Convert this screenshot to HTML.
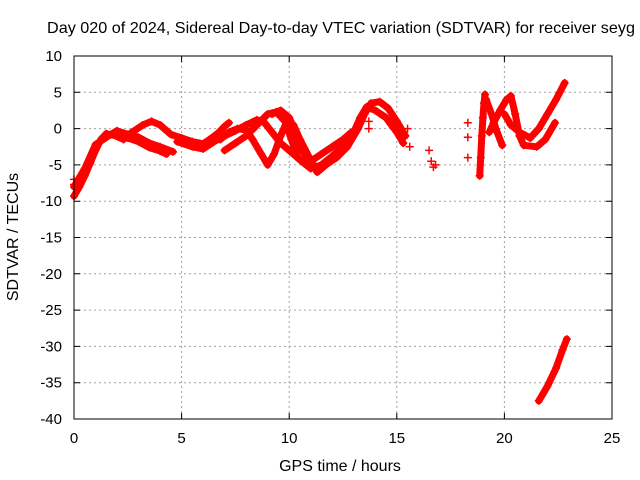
<!DOCTYPE html>
<html><head><meta charset="utf-8"><style>
body{margin:0;background:#fff}
svg{display:block;font-family:"Liberation Sans",sans-serif}
</style></head><body>
<svg id="chart" width="640" height="480" viewBox="0 0 640 480">
<rect width="640" height="480" fill="#fff"/>
<g id="grid"></g>
<g id="series"></g>
<rect x="74" y="56" width="538" height="363" fill="none" stroke="#000" stroke-width="1"/>
<g id="ticks"></g>
<text x="47" y="33" font-size="16" textLength="588" lengthAdjust="spacingAndGlyphs" fill="#000">Day 020 of 2024, Sidereal Day-to-day VTEC variation (SDTVAR) for receiver seyg</text>
<text x="340" y="471" font-size="16" text-anchor="middle">GPS time / hours</text>
<text x="0" y="0" font-size="16" text-anchor="middle" transform="translate(18,237) rotate(-90)">SDTVAR / TECUs</text>
</svg>
<script>
const xTicks=[0,5,10,15,20,25];
const yTicks=[10,5,0,-5,-10,-15,-20,-25,-30,-35,-40];
const trackA=[[0,-9.3],[0.25,-8],[0.5,-6.5],[0.75,-4.8],[1,-3],[1.25,-1.5],[1.5,-0.7],[2,-1],[2.5,-1.3],[3,-1.8],[3.5,-2.6],[4,-3.1],[4.3,-3.5]];
const trackB=[[0,-8],[0.5,-5.5],[1,-2.2],[1.5,-1.2],[2,-0.3],[2.5,-0.8],[3,-1.2],[3.5,-2],[4,-2.5],[4.6,-3.2]];
const trackC=[[1.8,-0.8],[2.3,-1.5],[2.7,-0.5],[3.2,0.5],[3.6,1],[4,0.5],[4.5,-0.8],[5,-1.3],[5.5,-1.8],[6,-2.1],[6.3,-1.5],[6.7,-0.6],[7,0.3],[7.2,0.8]];
const trackD=[[4.8,-1.8],[5.5,-2.5],[6,-2.8],[6.5,-1.8],[7,-1],[7.5,-0.3],[8,0.5],[8.5,1.2],[8.8,1],[9.2,-0.5],[9.6,-2],[10,-3],[10.5,-4.3],[11,-5.5],[11.5,-5],[12,-3.8],[12.5,-2.5],[13,-0.5],[13.3,1.5],[13.6,3],[14,2.5],[14.5,1.5],[15,-0.5],[15.3,-2]];
const trackE=[[6.8,-1.5],[7.2,-0.5],[7.6,0],[8,-0.2],[8.3,-1.5],[8.7,-3.5],[9,-5],[9.3,-3.5],[9.6,-1],[9.9,1],[10.2,0.5],[10.5,-1.5],[10.9,-3.8],[11.3,-6],[11.7,-5],[12.2,-4],[12.7,-2.5],[13.2,0],[13.5,2],[13.8,3.5],[14.2,3.7],[14.6,2.8],[15,1],[15.4,-1]];
const trackF=[[7,-3],[7.5,-2],[8,-1],[8.5,0.5],[9,2],[9.4,2.3],[9.8,1],[10.1,-1.5],[10.4,-4],[10.7,-4.8],[11,-4.5],[11.5,-3.5],[12,-2.5],[12.5,-1.5],[12.9,-0.5]];
const trackG=[[9.2,2],[9.6,2.5],[10,1.5],[10.3,-0.5],[10.6,-3],[11,-5],[11.4,-5.5],[11.8,-4.5],[12.3,-3]];
const trackH=[[18.85,-6.5],[18.9,-4],[18.95,-1],[19,1.5],[19.05,3.5],[19.1,4.7]];
const trackI=[[19.15,4],[19.4,2],[19.6,0],[19.9,-2.3]];
const trackJ=[[19.3,-0.5],[19.5,0.8],[19.8,2.5],[20.1,4],[20.3,4.5],[20.5,2],[20.7,-1],[20.9,-2.3],[21.5,-2.5],[21.9,-1.5],[22.35,0.8]];
const trackK=[[20,2],[20.3,0.5],[20.7,-0.5],[21.2,-1.3],[21.6,0],[22,2],[22.4,4],[22.8,6.3]];
const trackL=[[21.6,-37.5],[22,-35.5],[22.4,-33],[22.7,-30.5],[22.9,-29]];
const scatterPts=[[16.5,-3],[16.6,-4.5],[16.7,-5.3],[16.8,-5],[18.3,0.8],[18.3,-1.2],[18.3,-4],[15.5,0],[15.6,-2.5],[13.7,1],[13.7,0],[0,-7],[0,-7.7]];
const tracks=[trackA,trackB,trackC,trackD,trackE,trackF,trackG,trackH,trackI,trackJ,trackK,trackL];
const NS="http://www.w3.org/2000/svg";
const X0=74,X1=612,Y0=419,Y1=56;
const xs=t=>X0+(t-0)/(25-0)*(X1-X0);
const ys=v=>Y0-(v+40)/(50)*(Y0-Y1);
function mk(tag,attrs){const e=document.createElementNS(NS,tag);for(const k in attrs)e.setAttribute(k,attrs[k]);return e;}
const grid=document.getElementById('grid'),ticks=document.getElementById('ticks'),ser=document.getElementById('series');
xTicks.forEach(t=>{
  const x=xs(t);
  if(t>0&&t<25){const g=mk('line',{x1:x,x2:x,y1:Y1,y2:Y0,stroke:'#a0a0a0','stroke-dasharray':'2,3'});
  
  grid.appendChild(g);}
  const tk=mk('path',{d:`M${x},${Y0}v-6M${x},${Y1}v6`,stroke:'#000'});
  
  ticks.appendChild(tk);
  const l=mk('text',{x:x,y:443,'font-size':15,'text-anchor':'middle'});l.textContent=t;
  
  ticks.appendChild(l);
});
yTicks.forEach(v=>{
  const y=ys(v);
  if(v>-40&&v<10){const g=mk('line',{x1:X0,x2:X1,y1:y,y2:y,stroke:'#a0a0a0','stroke-dasharray':'2,3'});
  
  grid.appendChild(g);}
  const tk=mk('path',{d:`M${X0},${y}h6M${X1},${y}h-6`,stroke:'#000'});
  
  ticks.appendChild(tk);
  const l=mk('text',{x:62,y:y+5,'font-size':15,'text-anchor':'end'});l.textContent=v;
  
  ticks.appendChild(l);
});
function plus(t,v){
  const p=mk('path',{d:`M${xs(t)-4},${ys(v)}h8M${xs(t)},${ys(v)-4}v8`,stroke:'#f00','stroke-width':1.5});
  
  ser.appendChild(p);
}
tracks.forEach(tr=>{
  const d=tr.map((p,i)=>(i?'L':'M')+xs(p[0]).toFixed(1)+','+ys(p[1]).toFixed(1)).join('');
  const pl=mk('path',{d:d,fill:'none',stroke:'#f00','stroke-width':7,'stroke-linejoin':'round','stroke-linecap':'round'});
  
  ser.appendChild(pl);
  tr.forEach(p=>plus(p[0],p[1]));
});
scatterPts.forEach(p=>plus(p[0],p[1]));
</script>
</body></html>
